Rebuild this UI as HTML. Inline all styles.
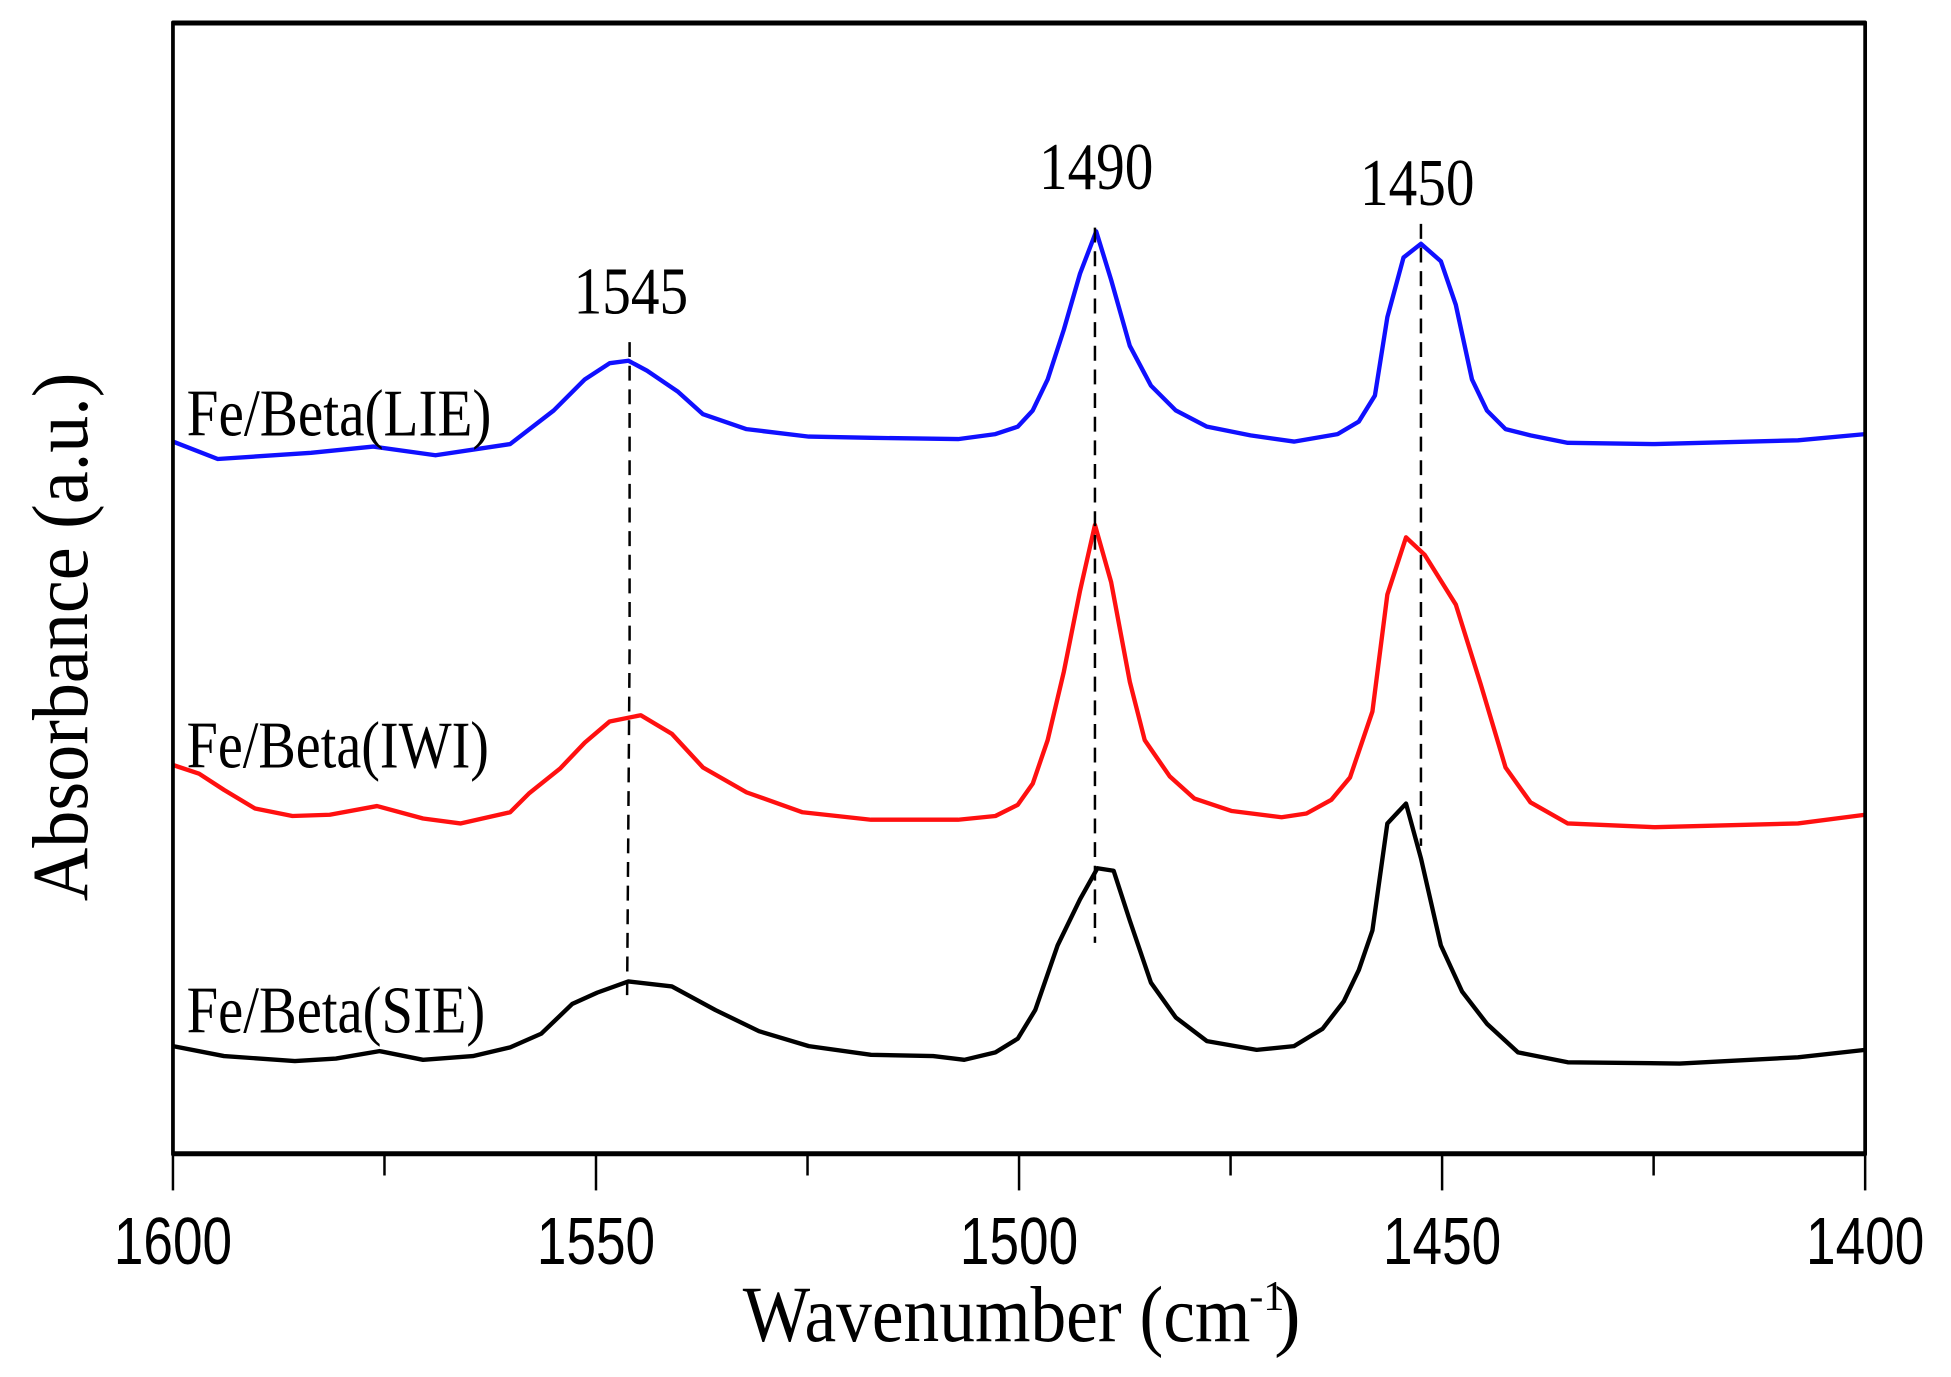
<!DOCTYPE html>
<html><head><meta charset="utf-8"><style>html,body{margin:0;padding:0;background:#fff}svg{display:block}</style></head>
<body>
<svg width="1951" height="1377" viewBox="0 0 1568 1107" preserveAspectRatio="none" xmlns="http://www.w3.org/2000/svg">
<rect width="1568" height="1107" fill="#fff"/>
<g fill="none" stroke-linejoin="round">
<polyline stroke="#1010ff" stroke-width="3.5" points="139,355 175,369 250,364 300,359 350,366 410,357 445,330 470,305 490,292 505,290 520,298 545,315 565,333 600,345 650,351 700,352 770,353 800,349 818,343 830,330 842,305 855,265 868,220 881,186 893,225 908,278 925,310 945,330 970,343 1005,350 1040,355 1075,349 1092,339 1105,318 1115,255 1128,207 1142,196 1158,210 1170,245 1183,305 1195,330 1210,345 1230,350 1260,356 1330,357 1445,354 1499,349"/>
<polyline stroke="#ff1010" stroke-width="3.5" points="139,615 160,622 180,635 205,650 235,656 265,655 303,648 340,658 370,662 410,653 425,638 450,618 470,597 490,580 515,575 540,590 565,617 600,637 645,653 700,659 770,659 800,656 818,647 830,630 842,595 855,540 868,475 880,422 893,468 908,548 920,595 940,624 960,642 990,652 1030,657 1050,654 1070,643 1085,625 1103,572 1115,478 1130,432 1145,446 1170,486 1190,550 1210,617 1230,645 1260,662 1330,665 1445,662 1499,655"/>
<polyline stroke="#000" stroke-width="3.5" points="139,841 180,849 237,853 270,851 305,845 340,852 380,849 410,842 435,831 460,807 480,798 505,789 540,793 575,812 610,829 650,841 700,848 750,849 775,852 800,846 818,835 832,812 850,760 868,723 882,698 895,700 908,740 925,790 945,818 970,837 1010,844 1040,841 1063,827 1080,805 1092,780 1103,748 1115,662 1130,646 1142,690 1158,760 1175,797 1195,823 1220,846 1260,854 1350,855 1445,850 1499,844"/>
<g stroke="#000" stroke-width="2" stroke-dasharray="12,7">
<polyline points="506,275 506,520 504,800"/>
<line x1="880" y1="183" x2="880" y2="758"/>
<line x1="1142" y1="180" x2="1142" y2="680"/>
</g>
<rect x="139" y="18" width="1360" height="910" stroke="#000" stroke-width="3"/>
<line x1="139" y1="19" x2="1499" y2="19" stroke="#000" stroke-width="3"/>
<line x1="139" y1="927" x2="1499" y2="927" stroke="#000" stroke-width="3"/>
<g stroke="#000" stroke-width="2">
<line x1="139" y1="928" x2="139" y2="957"/><line x1="479" y1="928" x2="479" y2="957"/><line x1="819" y1="928" x2="819" y2="957"/><line x1="1159" y1="928" x2="1159" y2="957"/><line x1="1499" y1="928" x2="1499" y2="957"/>
<line x1="309" y1="928" x2="309" y2="945"/><line x1="649" y1="928" x2="649" y2="945"/><line x1="989" y1="928" x2="989" y2="945"/><line x1="1329" y1="928" x2="1329" y2="945"/>
</g>
</g>
<g font-family="Liberation Sans, sans-serif" font-size="54" text-anchor="middle" fill="#000">
<text x="139" y="1016" textLength="95" lengthAdjust="spacingAndGlyphs">1600</text>
<text x="479" y="1016" textLength="95" lengthAdjust="spacingAndGlyphs">1550</text>
<text x="819" y="1016" textLength="95" lengthAdjust="spacingAndGlyphs">1500</text>
<text x="1159" y="1016" textLength="95" lengthAdjust="spacingAndGlyphs">1450</text>
<text x="1499" y="1016" textLength="95" lengthAdjust="spacingAndGlyphs">1400</text>
</g>
<g font-family="Liberation Serif, serif" fill="#000">
<text x="597" y="1078" font-size="64" textLength="408" lengthAdjust="spacingAndGlyphs">Wavenumber (cm</text>
<text x="1004" y="1053" font-size="34">-1</text>
<text x="1024" y="1078" font-size="64">)</text>
<text transform="translate(70,512) rotate(-90)" text-anchor="middle" font-size="64" textLength="425" lengthAdjust="spacingAndGlyphs">Absorbance (a.u.)</text>
<g font-size="54" text-anchor="middle">
<text x="507" y="252" textLength="92" lengthAdjust="spacingAndGlyphs">1545</text>
<text x="881" y="152" textLength="92" lengthAdjust="spacingAndGlyphs">1490</text>
<text x="1139" y="165" textLength="92" lengthAdjust="spacingAndGlyphs">1450</text>
</g>
<g font-size="54">
<text x="150" y="350" textLength="245" lengthAdjust="spacingAndGlyphs">Fe/Beta(LIE)</text>
<text x="150" y="617" textLength="243" lengthAdjust="spacingAndGlyphs">Fe/Beta(IWI)</text>
<text x="150" y="830" textLength="240" lengthAdjust="spacingAndGlyphs">Fe/Beta(SIE)</text>
</g>
</g>
</svg>
</body></html>
